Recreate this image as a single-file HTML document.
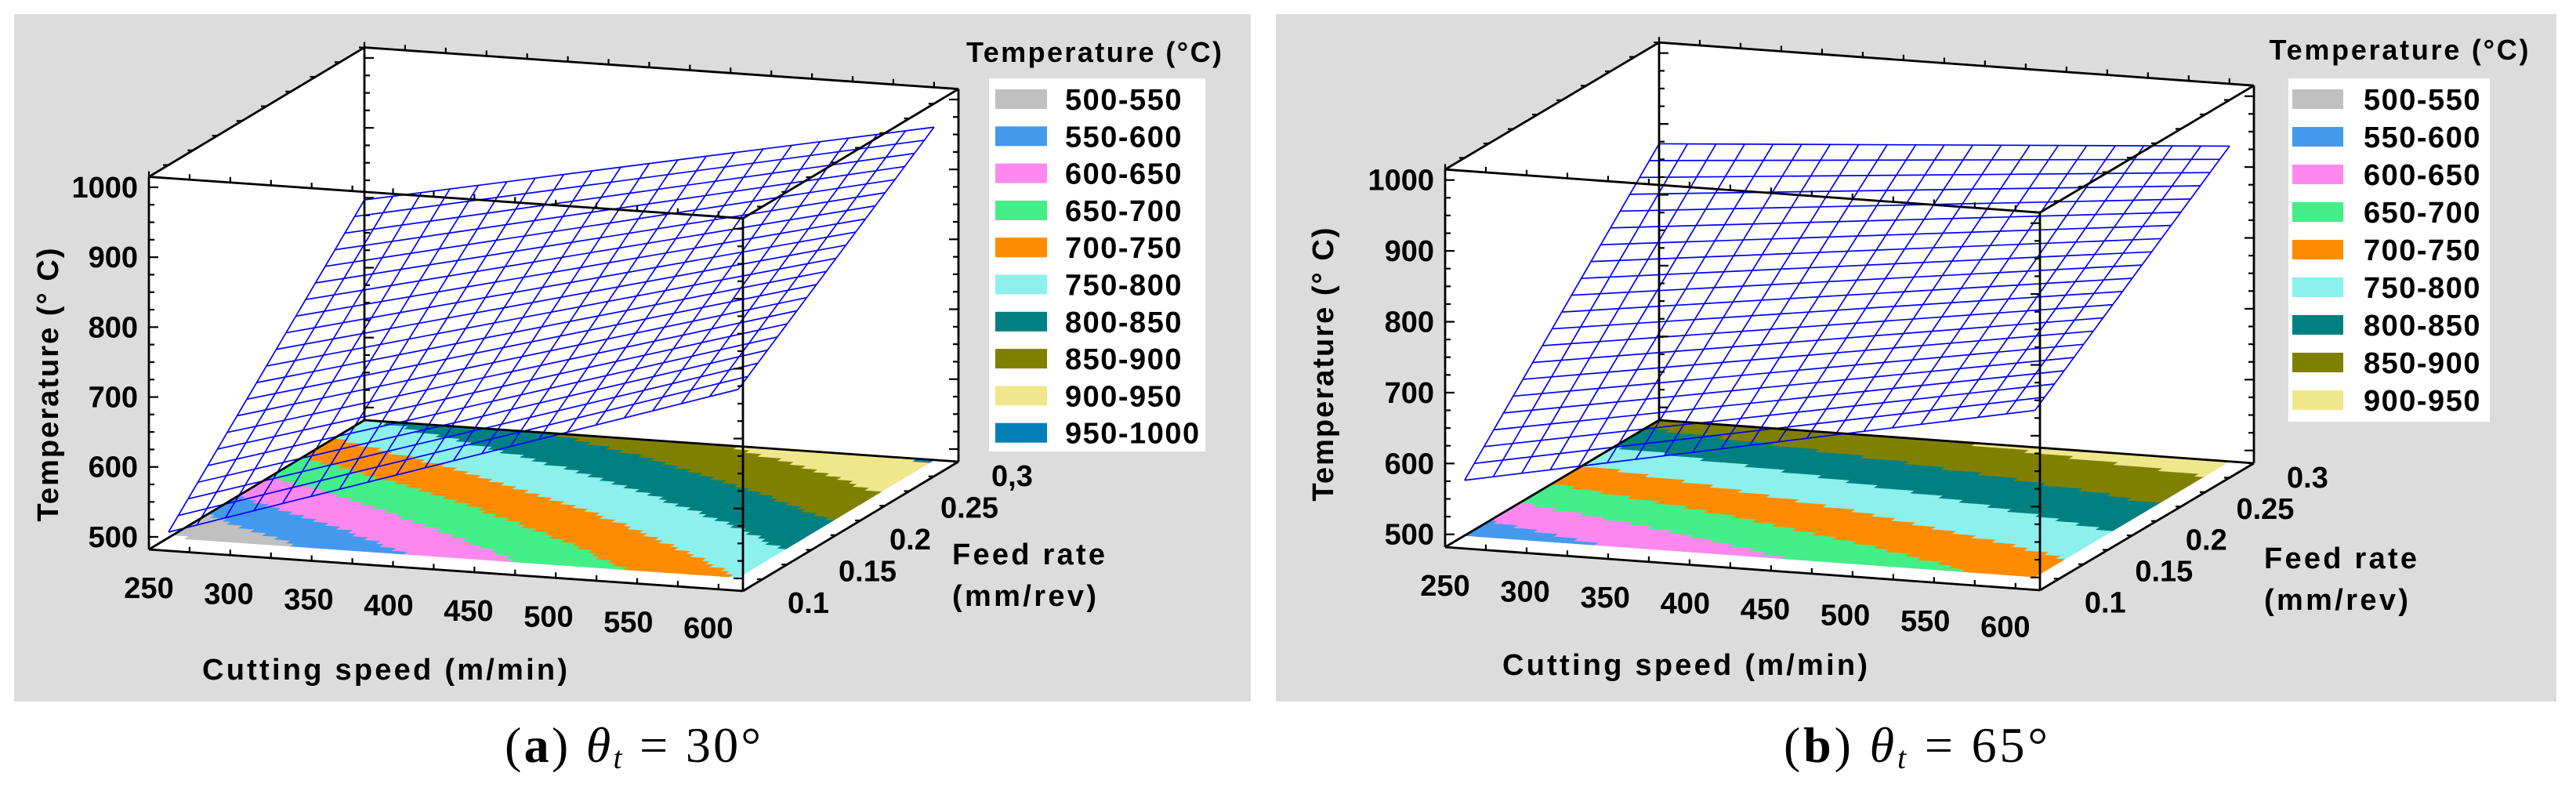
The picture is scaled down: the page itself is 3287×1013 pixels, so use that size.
<!DOCTYPE html>
<html><head><meta charset="utf-8"><style>
html,body{margin:0;padding:0;background:#fff;}
svg{display:block;}
text{font-family:"Liberation Sans",Arial,sans-serif;font-weight:bold;fill:#000;}
.cap{font-family:"Liberation Serif","Times New Roman",serif;font-weight:normal;}
</style></head><body>
<svg id="fig" xmlns="http://www.w3.org/2000/svg" width="3287" height="1013" viewBox="0 0 3287 1013">
<rect x="0" y="0" width="3287" height="1013" fill="#fff"/>
<g id="pa"></g>
<g id="pb"></g>
<text class="cap" x="644" y="972" font-size="64" textLength="327">(<tspan font-weight="bold">a</tspan>)  <tspan font-style="italic">θ</tspan><tspan font-style="italic" font-size="40" dy="8">t</tspan><tspan dy="-8"> = 30°</tspan></text>
<text class="cap" x="2276" y="972" font-size="64" textLength="337">(<tspan font-weight="bold">b</tspan>)  <tspan font-style="italic">θ</tspan><tspan font-style="italic" font-size="40" dy="8">t</tspan><tspan dy="-8"> = 65°</tspan></text>
</svg>
<script>
// ---- data ----
const speedGrid = [250, 600];            // cutting speed (m/min)
const feedGrid = [0.1, 0.3];             // feed rate (mm/rev)
const tempsA_feedLow = [490, 751];       // panel a, feed 0.1, at speeds 250/600
const tempsA_feedHigh = [797, 958];      // panel a, feed 0.3
const tempsB_feedLow = [560, 717];       // panel b
const tempsB_feedHigh = [872, 927];
const bandEdges = [500, 550, 600, 650, 700, 750, 800, 850, 900, 950, 1000];
const bandColors = ["#c0c0c0", "#4499ee", "#ff88ee", "#44ee88", "#ff8c00", "#8cf0ec", "#008080", "#808000", "#f0e68c", "#0080b4"];
const legendLabelsA = ["500-550","550-600","600-650","650-700","700-750","750-800","800-850","850-900","900-950","950-1000"];
const legendLabelsB = ["500-550","550-600","600-650","650-700","700-750","750-800","800-850","850-900","900-950"];
const speedTicks = [250, 300, 350, 400, 450, 500, 550, 600];
const feedTicks = [0.1, 0.15, 0.2, 0.25, 0.3];
const feedLabelsA = ["0.1", "0.15", "0.2", "0.25", "0,3"];
const feedLabelsB = ["0.1", "0.15", "0.2", "0.25", "0.3"];
const tempTicks = [500, 600, 700, 800, 900, 1000];

const NS = "http://www.w3.org/2000/svg";
function mk(parent, tag, attrs) {
  const e = document.createElementNS(NS, tag);
  for (const k in attrs) e.setAttribute(k, attrs[k]);
  parent.appendChild(e);
  return e;
}

function drawPanel(g, cfg) {
  const V0 = 250, V1 = 615, F0 = 0.08, F1 = 0.3, Z0 = 482, Z1 = 1015;
  function P(v, fd, T) {
    const s = (v - V0) / (V1 - V0), f = (fd - F0) / (F1 - F0);
    return [cfg.ox + cfg.sx * s + cfg.fx * f, cfg.oy + cfg.sy * s + cfg.fy * f - cfg.k * (T - Z0)];
  }
  function temp(v, fd) {
    const a = (v - speedGrid[0]) / (speedGrid[1] - speedGrid[0]);
    const b = (fd - feedGrid[0]) / (feedGrid[1] - feedGrid[0]);
    return cfg.low[0] * (1 - a) * (1 - b) + cfg.low[1] * a * (1 - b) + cfg.high[0] * (1 - a) * b + cfg.high[1] * a * b;
  }
  const pt = p => p[0].toFixed(1) + "," + p[1].toFixed(1);

  const bg = mk(g, "rect", {x: cfg.bx, y: 18, width: cfg.bw, height: 877, fill: "#dcdcdc"});
  
  

  const c = {
    fbl: P(V0, F0, Z0), fbr: P(V1, F0, Z0), bbl: P(V0, F1, Z0), bbr: P(V1, F1, Z0),
    ftl: P(V0, F0, Z1), ftr: P(V1, F0, Z1), btl: P(V0, F1, Z1), btr: P(V1, F1, Z1)
  };
  const sil = mk(g, "polygon", {points: [c.fbl, c.ftl, c.btl, c.btr, c.bbr, c.fbr].map(pt).join(" "), fill: "#fff"});
  
  

  const floor = mk(g, "g", {});
  
  
  const NS_ = 70, NF_ = 45;
  for (let i = 0; i < NS_; i++) {
    for (let j = 0; j < NF_; j++) {
      const v0 = speedGrid[0] + (speedGrid[1] - speedGrid[0]) * i / NS_;
      const v1 = speedGrid[0] + (speedGrid[1] - speedGrid[0]) * (i + 1) / NS_;
      const f0 = feedGrid[0] + (feedGrid[1] - feedGrid[0]) * j / NF_;
      const f1 = feedGrid[0] + (feedGrid[1] - feedGrid[0]) * (j + 1) / NF_;
      const T = temp((v0 + v1) / 2, (f0 + f1) / 2);
      let bi = -1;
      for (let b = 0; b < bandEdges.length - 1; b++) if (T >= bandEdges[b] && T < bandEdges[b + 1]) bi = b;
      if (bi < 0) continue;
      const cell = mk(floor, "polygon", {points: [P(v0, f0, Z0), P(v1, f0, Z0), P(v1, f1, Z0), P(v0, f1, Z0)].map(pt).join(" "), fill: bandColors[bi], stroke: bandColors[bi], "stroke-width": 0.8});
      
      
    }
  }

  const mesh = mk(g, "g", {fill: "none", stroke: "#0000ff", "stroke-width": 1.7});
  
  
  const N = 20;
  for (let i = 0; i <= N; i++) {
    const v = speedGrid[0] + (speedGrid[1] - speedGrid[0]) * i / N;
    const l = mk(mesh, "line", {});
    const a = P(v, feedGrid[0], temp(v, feedGrid[0])), b = P(v, feedGrid[1], temp(v, feedGrid[1]));
    l.setAttribute("x1", a[0]); l.setAttribute("y1", a[1]); l.setAttribute("x2", b[0]); l.setAttribute("y2", b[1]);
    
    
    const fd = feedGrid[0] + (feedGrid[1] - feedGrid[0]) * i / N;
    const l2 = mk(mesh, "line", {});
    const a2 = P(speedGrid[0], fd, temp(speedGrid[0], fd)), b2 = P(speedGrid[1], fd, temp(speedGrid[1], fd));
    l2.setAttribute("x1", a2[0]); l2.setAttribute("y1", a2[1]); l2.setAttribute("x2", b2[0]); l2.setAttribute("y2", b2[1]);
    
    
  }

  const box = mk(g, "g", {stroke: "#000", "stroke-width": 2.8, fill: "none"});
  
  
  const edges = [["fbl","ftl"],["bbl","btl"],["fbr","ftr"],["bbr","btr"],["ftl","ftr"],["btl","btr"],["ftl","btl"],["ftr","btr"],["fbl","fbr"],["fbr","bbr"],["fbl","bbl"],["bbl","bbr"]];
  edges.forEach(e => {
    const l = mk(box, "line", {x1: c[e[0]][0], y1: c[e[0]][1], x2: c[e[1]][0], y2: c[e[1]][1]});
    
    
  });
  const ticks = mk(g, "g", {stroke: "#000", "stroke-width": 2.2});
  
  
  for (let T = 500; T <= 1000; T += 25) {
    const len = (T % 100 === 0) ? 12 : 7;
    [[V0, F0, 1], [V0, F1, 1], [V1, F0, -1], [V1, F1, -1]].forEach(q => {
      const p = P(q[0], q[1], T);
      mk(ticks, "line", {x1: p[0], y1: p[1], x2: p[0] + q[2] * len, y2: p[1]});
    });
  }
  for (let v = 250; v <= 600; v += 25) {
    [[F0, Z0], [F0, Z1], [F1, Z1]].forEach(q => {
      const p = P(v, q[0], q[1]);
      mk(ticks, "line", {x1: p[0], y1: p[1], x2: p[0], y2: p[1] - 7});
    });
  }
  for (let fd = 0.1; fd <= 0.3001; fd += 0.025) {
    [[V1, Z0], [V0, Z1], [V1, Z1]].forEach(q => {
      const p = P(q[0], fd, q[1]);
      mk(ticks, "line", {x1: p[0], y1: p[1], x2: p[0] - 7, y2: p[1]});
    });
  }

  tempTicks.forEach(T => {
    const p = P(V0, F0, T);
    const t = mk(g, "text", {x: cfg.ox - 14, y: p[1] + 13, "font-size": 38, "text-anchor": "end"});
    t.textContent = T;
    
    
  });
  speedTicks.forEach(v => {
    const p = P(v, F0, Z0);
    const t = mk(g, "text", {x: p[0] - 13 * (v - 250) / 350, y: p[1] + 62, "font-size": 38, "text-anchor": "middle"});
    t.textContent = v;
    
    
  });
  feedTicks.forEach((fd, i) => {
    const p = P(V1, fd, Z0);
    const fn = (fd - 0.1) / 0.2;
    const t = mk(g, "text", {x: p[0] + 32 + 10 * fn, y: p[1] + 43 - 12 * fn, "font-size": 38});
    t.textContent = cfg.feedLabels[i];
    
    
  });
  let t = mk(g, "text", {x: cfg.xt[0], y: cfg.xt[1], "font-size": 38, "text-anchor": "middle", textLength: 466});
  t.textContent = "Cutting speed (m/min)";
  
  
  t = mk(g, "text", {x: 0, y: 0, "font-size": 38, "text-anchor": "middle", textLength: 349, transform: "translate(" + (cfg.yt[0] + 13) + "," + cfg.yt[1] + ") rotate(-90)"});
  t.textContent = "Temperature (° C)";
  
  
  t = mk(g, "text", {x: cfg.ft[0], y: cfg.ft[1], "font-size": 38, textLength: 195});
  t.textContent = "Feed rate";
  
  
  t = mk(g, "text", {x: cfg.ft[0], y: cfg.ft[1] + 53, "font-size": 38, textLength: 184});
  t.textContent = "(mm/rev)";
  
  

  const lg = mk(g, "g", {});
  
  
  t = mk(lg, "text", {x: cfg.lt[0], y: cfg.lt[1], "font-size": 36, "text-anchor": "middle", textLength: cfg.lt[2]});
  t.textContent = "Temperature (°C)";
  
  
  const lb = mk(lg, "rect", {x: cfg.lb[0], y: 100, width: cfg.lb[1], height: cfg.lb[2], fill: "#fff"});
  
  
  cfg.legend.forEach((lab, i) => {
    const cy = 126 + i * cfg.lstep;
    const sw = mk(lg, "rect", {x: cfg.sw[0], y: cy - 12, width: cfg.sw[1], height: 25, fill: bandColors[i]});
    
    
    const tx = mk(lg, "text", {x: cfg.sw[2], y: cy + 14, "font-size": 38, "letter-spacing": 1.5});
    tx.textContent = lab;
    
    
  });
}

drawPanel(document.getElementById("pa"), {
  bx: 18, bw: 1578, ox: 190, oy: 701, sx: 758, sy: 53, fx: 275, fy: -165, k: 0.892,
  low: tempsA_feedLow, high: tempsA_feedHigh, feedLabels: feedLabelsA, legend: legendLabelsA,
  xt: [491, 867], yt: [61, 491], ft: [1215, 720], lt: [1396, 79, 326], lb: [1262, 276, 476],
  sw: [1270, 66, 1359], lstep: 47.3
});
drawPanel(document.getElementById("pb"), {
  bx: 1628, bw: 1634, ox: 1844, oy: 698, sx: 759, sy: 55, fx: 273, fy: -162, k: 0.904,
  low: tempsB_feedLow, high: tempsB_feedHigh, feedLabels: feedLabelsB, legend: legendLabelsB,
  xt: [2150, 861], yt: [1688, 465], ft: [2889, 725], lt: [3061, 76, 331], lb: [2920, 257, 438],
  sw: [2925, 65, 3016], lstep: 48
});
</script>
</body></html>
